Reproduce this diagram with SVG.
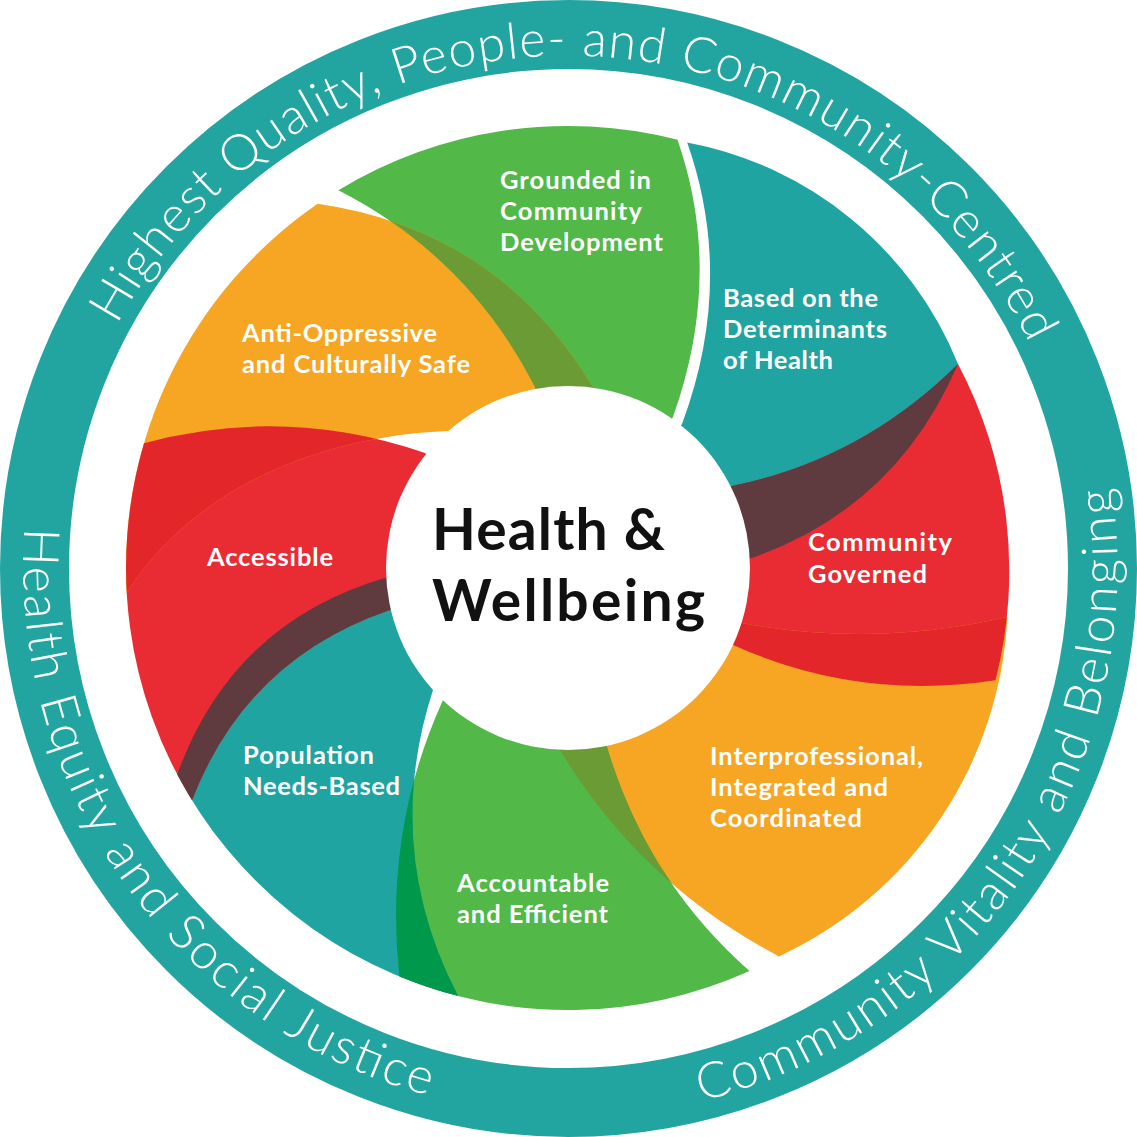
<svg xmlns="http://www.w3.org/2000/svg" xmlns:xlink="http://www.w3.org/1999/xlink" width="1137" height="1137" viewBox="0 0 1137 1137">
<style>
.lbl{font-family:Lato,"Open Sans","Liberation Sans",sans-serif;font-weight:700;font-size:25.5px;fill:#ffffff}
.ringtxt{font-family:Lato,"Open Sans","Liberation Sans",sans-serif;font-weight:300;font-size:50px;fill:#ffffff}
.hub{font-family:Lato,"Open Sans","Liberation Sans",sans-serif;font-weight:700;font-size:57px;fill:#111111}
.green{fill:#52b848}.teal{fill:#1fa4a1}.red{fill:#e92c33}.orange{fill:#f6a623}
.olive{fill:#6a9b35}.maroon{fill:#5f3a3f}.dred{fill:#e2262a}.dgreen{fill:#00984a}
</style>
<defs>
<path id="p1" d="M338.4,190.3 A442,442 0 0 1 677.5,139.8 Q724,274 673,417 L568,568 L535,387 Q468.3,256.7 338.4,190.3 Z"/>
<path id="p2" d="M687.2,142.4 A365,365 0 0 1 958,364 Q896.5,507.2 752,558 L568,568 L682,424 Q735.5,280 687.2,142.4 Z"/>
<path id="p3" d="M958,364 A442,442 0 0 1 995.5,680.2 Q858.8,701.2 733,645 L568,568 L732,486 Q861.9,459.5 958,364 Z"/>
<path id="p4" d="M1007.3,617 A395,395 0 0 1 778.9,956.4 Q640.2,883.1 560,750 L568,568 L742,623 Q874.5,647.5 1007.3,617 Z"/>
<path id="p5" d="M749.5,971 A442,442 0 0 1 399.4,976.6 Q383.4,831.5 443,700 L568,568 L607,747 Q646.4,879.9 749.5,971 Z"/>
<path id="p6" d="M458.1,996.1 A442,442 0 0 1 177.2,774.5 Q232.4,621.5 388,577 L568,568 L433,690 Q381.7,848.7 458.1,996.1 Z"/>
<path id="p7" d="M192,800.3 A442,442 0 0 1 144,443.2 Q285.5,405 425,453 L568,568 L390,610 Q246.7,658.8 192,800.3 Z"/>
<path id="p8" d="M126.7,593 A442,442 0 0 1 317.7,203.7 Q498,230 593,387 L568,568 L448,431 C328.1,435.8 196.9,482.8 126.7,593 Z"/>
<clipPath id="c1"><use xlink:href="#p1"/></clipPath>
<clipPath id="c2"><use xlink:href="#p2"/></clipPath>
<clipPath id="c3"><use xlink:href="#p3"/></clipPath>
<clipPath id="c4"><use xlink:href="#p4"/></clipPath>
<clipPath id="c5"><use xlink:href="#p5"/></clipPath>
<clipPath id="c6"><use xlink:href="#p6"/></clipPath>
<clipPath id="c7"><use xlink:href="#p7"/></clipPath>
<path id="arcTop" d="M55.6,558.2 A513,513 0 0 1 1081.4,578.8"/>
<path id="arcLeft" d="M250.5,121 A549,549 0 0 0 886.5,1016"/>
<path id="arcRight" d="M263.5,1025 A549,549 0 0 0 873.5,112"/>
</defs>
<rect width="1137" height="1137" fill="#ffffff"/>
<g id="outer-ring">
<circle cx="568.5" cy="568.5" r="534" fill="none" stroke="#22a5a1" stroke-width="69"/>
<text class="ringtxt"><textPath xlink:href="#arcTop" startOffset="50%" text-anchor="middle" textLength="1124">Highest Quality, People- and Community-Centred</textPath></text>
<text class="ringtxt"><textPath xlink:href="#arcLeft" startOffset="50%" text-anchor="middle" textLength="755">Health Equity and Social Justice</textPath></text>
<text class="ringtxt"><textPath xlink:href="#arcRight" startOffset="50%" text-anchor="middle" textLength="810">Community Vitality and Belonging</textPath></text>
</g>
<g id="petal-grounded">
<use xlink:href="#p1" class="green"/>
<text class="lbl" x="500" y="189" textLength="151">Grounded in</text>
<text class="lbl" x="500" y="220" textLength="142">Community</text>
<text class="lbl" x="500" y="251" textLength="163">Development</text>
</g>
<g id="petal-determinants">
<use xlink:href="#p2" class="teal"/>
<text class="lbl" x="723" y="307" textLength="155">Based on the</text>
<text class="lbl" x="723" y="338" textLength="164">Determinants</text>
<text class="lbl" x="723" y="369" textLength="110">of Health</text>
</g>
<g id="petal-governed">
<use xlink:href="#p3" class="red"/>
<use xlink:href="#p3" class="maroon" clip-path="url(#c2)"/>
<text class="lbl" x="808" y="551" textLength="144">Community</text>
<text class="lbl" x="808" y="583" textLength="119">Governed</text>
</g>
<g id="petal-interprofessional">
<use xlink:href="#p4" class="orange"/>
<use xlink:href="#p4" class="dred" clip-path="url(#c3)"/>
<text class="lbl" x="710" y="765" textLength="213">Interprofessional,</text>
<text class="lbl" x="710" y="796" textLength="178">Integrated and</text>
<text class="lbl" x="710" y="827" textLength="152">Coordinated</text>
</g>
<g id="petal-accountable">
<use xlink:href="#p5" class="green"/>
<use xlink:href="#p5" class="olive" clip-path="url(#c4)"/>
<text class="lbl" x="457" y="892" textLength="152">Accountable</text>
<text class="lbl" x="457" y="923" textLength="151">and Efficient</text>
</g>
<g id="petal-population">
<use xlink:href="#p6" class="teal"/>
<use xlink:href="#p6" class="dgreen" clip-path="url(#c5)"/>
<text class="lbl" x="243" y="764" textLength="131">Population</text>
<text class="lbl" x="243" y="795" textLength="157">Needs-Based</text>
</g>
<g id="petal-accessible">
<use xlink:href="#p7" class="red"/>
<use xlink:href="#p7" class="maroon" clip-path="url(#c6)"/>
<text class="lbl" x="207" y="566" textLength="126">Accessible</text>
</g>
<g id="petal-anti-oppressive">
<use xlink:href="#p8" class="orange"/>
<use xlink:href="#p8" class="dred" clip-path="url(#c7)"/>
<use xlink:href="#p8" class="olive" clip-path="url(#c1)"/>
<text class="lbl" x="242" y="342" textLength="195">Anti-Oppressive</text>
<text class="lbl" x="242" y="373" textLength="228">and Culturally Safe</text>
</g>
<g id="hub-health-wellbeing">
<circle cx="568" cy="568" r="182" fill="#ffffff"/>
<text class="hub" x="432" y="550" textLength="233">Health &amp;</text>
<text class="hub" x="432" y="621" textLength="273">Wellbeing</text>
</g>
</svg>
